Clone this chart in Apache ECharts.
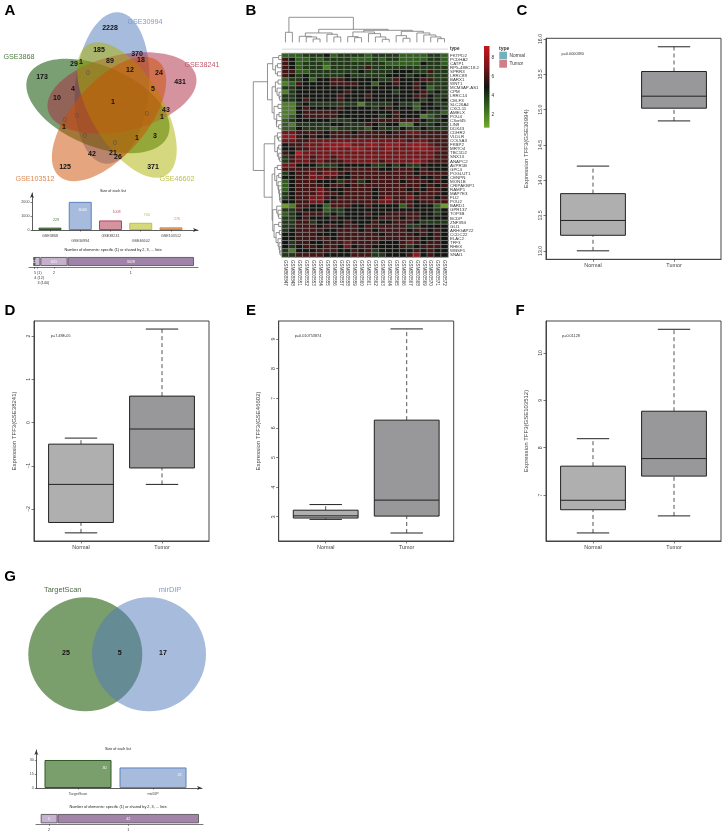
<!DOCTYPE html>
<html><head><meta charset="utf-8"><style>html,body{margin:0;background:#fff}#c{width:726px;height:835px}</style>
<script src="https://cdn.jsdelivr.net/npm/echarts@6/dist/echarts.min.js"></script></head><body><div id="c"></div>
<script>
const FONT='"Liberation Sans",Arial,sans-serif';
// Panel A: five-set Venn counts
const vennTexts=['2228','185','370','18','29','1','89','12','24','173','431','4','5','10','1','43','1','1','3','1','42','21','26','125','371'];
const vennTextX=[110,99,137,141,74,81,110,130,159,42,180,73,153,57,113,166,162,64,155,137,92,113,118,65,153];
const vennTextY=[28,50,54,60,64,62,61,70,73,77,82,89,89,98,102,110,117,127,136,138,154,153,157,167,167];
const vennZeroX=[88,77,147,65,85,115];
const vennZeroY=[73,116,114,120,136,143];
// Panel A: list sizes and intersections
const listNames=['GSE3868','GSE30994','GSE38241','GSE46602','GSE103512'];
const listSizes=[170,2030,690,520,190];
const listLabels=['229','3000','1008','700','276'];
const sharedCounts=[1,12,140,651,3028];
const sharedLabels=['5 (1)','\n4 (12)','\n\n3 (140)','2','1'];
// Panel B: heat map
const heatSamples=['GSM868847','GSM868848','GSM803551','GSM803552','GSM803553','GSM803554','GSM803555','GSM803556','GSM803557','GSM803558','GSM803559','GSM803560','GSM803561','GSM803562','GSM803563','GSM803564','GSM803565','GSM803566','GSM803567','GSM803568','GSM803569','GSM803570','GSM803571','GSM803572'];
const sampleTypes=[0,0,1,1,1,1,1,1,1,1,1,1,1,1,1,1,1,1,1,1,1,1,1,1];
const heatGenes=['FKTPD2','PCDHA2','CATP1','RP5-488C18.2','SPRR3','LRRC89','BARX1','WNT1','MCM3AP-AS1','CPM','LRRC14','CELF3','SLC26A4','CXCL11','AMELX','POU4','C3orf45','LIN9','DDX43','CDHR2','VLDLR','COL5A3','FKBP2','MRTO4','TBC1D2','SNX13','ANAPC2','AVPR1B','GPC4','POGLUT1','CENPN','MON1B','CRIPAKBP1','RAMP1','MAP7E3','FLI2','POU2','BARD1','GPR137','TOP3B','BCDP','ZNF394','GLI1','ARHGAP22','CCDC22','ELAC2','TFF3','RHEX','WBSF1','SNAI1'];
const heatRows=[
'333444 534444 344443 333443','653343 444433 343443 333443','653444 344444 444333 335443','653444 244444 644444 444444',
'663344 444445 444455 544644','654544 444544 444555 455444','344535 566555 554465 556644','236555 566665 535565 565444',
'445555 555555 555555 565344','245555 555655 555545 556454','445555 556555 655555 566544','445655 556555 555555 554545',
'224544 444442 444454 435544','225655 556555 545655 535554','225666 665555 555565 555443','235666 665555 554565 552345',
'345555 544455 566666 665445','324444 455444 654552 254454','335444 434444 354445 445444','776666 566656 666566 776666',
'886565 566666 666666 666666','776677 777777 777777 677666','566777 888977 887887 888766','556677 787788 777877 788776',
'659777 777777 777777 777766','467767 767777 777777 777766','467767 666777 776777 787666','775554 445555 544545 445555',
'666666 665666 665566 656555','456676 776566 666666 656666','556677 665566 666666 665565','356665 554664 566665 666565',
'356666 566566 666666 665656','356667 655666 656666 565665','456667 665666 656666 656665','456677 656666 656766 766656',
'556677 566666 667766 656666','126655 366655 655553 655531','446555 344555 555555 555545','345666 454555 655666 665545',
'445655 565555 556665 665555','446645 555655 565566 654444','446665 665665 666666 445555','456666 556665 656666 566565',
'556665 556666 665666 656565','556666 656666 666666 665565','546655 666766 665556 765665','545665 665756 655556 456665',
'425556 665565 645555 565655','446666 555566 644555 685655'];
const colTree=[75,[30,0,1],[39,[28,[18,2,[16,3,[10,4,5]]],[24,6,[16,7,8]]],[36,[31,[17,9,[14,10,11]],[26,12,[16,13,[9,14,15]]]],[33,[20,16,[12,17,18]],[28,19,[22,20,[16,21,[11,22,23]]]]]]]];
const rowTree=[87,[44,[28,[10,0,1],[20,[14,2,3],[14,4,5]]],[30,[20,[12,6,7],[15,8,[9,9,[7,10,11]]]],[24,[12,12,13],[16,[9,14,15],[17,16,[10,17,18]]]]]],
 [54,[22,[14,19,[10,20,21]],[14,[10,22,23],[10,24,[7,25,26]]]],[30,[22,[14,27,28],[16,[10,29,30],[12,31,[10,32,[8,33,[7,34,[6,35,36]]]]]]],[28,[16,37,[12,38,[10,39,40]]],[24,[10,41,42],[18,[8,43,44],[12,45,[9,46,[7,47,[6,48,49]]]]]]]]]];
// Panels C-F: box plots, each row is min, Q1, median, Q3, max
const boxC=[[13.0,13.22,13.43,13.81,14.2],[14.84,15.02,15.19,15.54,15.89]];
const boxD=[[-2.55,-2.31,-1.43,-0.5,-0.36],[-1.43,-1.05,-0.15,0.61,2.16]];
const boxE=[[2.91,2.955,3.03,3.22,3.41],[2.45,3.02,3.56,6.26,9.34]];
const boxF=[[6.2,6.69,6.89,7.61,8.19],[6.56,7.4,7.77,8.77,10.5]];
const boxNames=['Normal','Tumor'];
// Panel G
const gNames=['TargetScan','mirDIP'];
const gSizes=[30,22];
const gShared=[5,42];
const gSharedLabels=['2','1'];

const listFill=['#7a9f6c','#a7bbdc','#d4939f','#d6d87c','#e5a672'];
const listEdge=['#2f5a26','#5c82c0','#b8435f','#bcc04a','#d8803f'];
const listText=['#4f7a45','#7c9bd0','#c0586c','#bcc04a','#dd8a55'];
const heatStops=['#76ab2a','#35661f','#101510','#7a151b','#c4161c'];
const G=[],X=[],Y=[],S=[],GR=[];
function txt(t,x,y,size,o){GR.push({type:'text',x,y,silent:true,z:20,style:Object.assign({text:t,fontSize:size,fontFamily:FONT,fill:'#222',align:'center',verticalAlign:'middle'},o||{})});}
function grid(l,t,w,h,show){G.push(Object.assign({left:l,top:t,width:w,height:h,containLabel:false},show?{show:true,borderColor:'#444',borderWidth:1}:{}));return G.length-1;}
const hide={show:false};
[['A',10,11],['B',251,11],['C',522,11],['D',10,311],['E',251,311],['F',520,311],['G',10,577]].forEach(p=>txt(p[0],p[1],p[2],15,{fontWeight:'bold',fill:'#000'}));

// Venn A
[[112,88,85,37,'#4f77bb',.5],[98,106,-23,40,'#0d5000',.55],[122,93,13,38,'#a9273f',.5],[127,110,-59,36,'#adb100',.5],[109,119,49,37,'#cb4d00',.5]].forEach(e=>{
 GR.push({type:'ellipse',x:e[0],y:e[1],rotation:e[2]*Math.PI/180,silent:true,shape:{cx:0,cy:0,rx:76,ry:e[3]},style:{fill:e[4],opacity:e[5]},z:5});});
vennTexts.forEach((t,i)=>txt(t,vennTextX[i],vennTextY[i],7,{fontWeight:'bold',fill:'#111'}));
vennZeroX.forEach((x,i)=>txt('0',x,vennZeroY[i],7,{fill:'#555'}));
[['GSE30994',145,22],['GSE3868',19,57],['GSE38241',202,65],['GSE46602',177,179],['GSE103512',35,179]].forEach((p,i)=>txt(p[0],p[1],p[2],7.2,{fill:listText[[1,0,2,3,4][i]]}));

function arrowAxis(){return {show:true,onZero:false,symbol:['none','arrow'],symbolSize:[3,5],lineStyle:{color:'#333',width:.8}};}
function sizeBars(l,t,w,h,xmin,xmax,ymax,names,vals,labels,ticks,barW,idx,inside){
 const g=grid(l,t,w,h);
 X.push({gridIndex:g,type:'value',min:xmin,max:xmax,splitLine:hide,axisLine:arrowAxis(),axisTick:{show:true,length:1.5,customValues:names.map((n,i)=>i+1),lineStyle:{color:'#333',width:.6}},axisLabel:{customValues:names.map((n,i)=>i+1),fontSize:3.7,fontFamily:FONT,color:'#444',margin:3,lineHeight:5,formatter:v=>(names.length>2&&v%2===0?'\n':'')+names[v-1]}});
 Y.push({gridIndex:g,type:'value',min:0,max:ymax,splitLine:hide,axisLine:arrowAxis(),axisTick:{show:true,length:1.5,customValues:ticks,lineStyle:{color:'#333',width:.6}},axisLabel:{customValues:ticks,fontSize:3.7,fontFamily:FONT,color:'#444',margin:2.5,formatter:v=>String(v)}});
 S.push({type:'bar',xAxisIndex:X.length-1,yAxisIndex:Y.length-1,barWidth:barW,silent:true,
  data:vals.map((v,i)=>{const k=idx[i],ins=inside(i);return {value:[i+1,v],itemStyle:{color:listFill[k],borderColor:listEdge[k],borderWidth:1},
   label:{show:true,formatter:labels[i],fontSize:3.7,fontFamily:FONT,color:ins?'#fff':listText[k],position:ins?'insideTopRight':'top',offset:ins?[0,1]:[6,-1]}};})});
}
function sharedBar(l,t,w,h,min,max,vals,labels,fills){
 const g=grid(l,t,w,h);let acc=0;const mids=vals.map(v=>{const m=acc+v/2;acc+=v;return m;});
 X.push({gridIndex:g,type:'value',min,max,splitLine:hide,axisLine:{show:true,onZero:false,lineStyle:{color:'#555',width:.8}},axisTick:{show:true,length:1.5,customValues:mids,lineStyle:{color:'#333',width:.6}},
  axisLabel:{show:false}});
 Y.push({gridIndex:g,type:'category',data:['n'],show:false});
 vals.forEach((v,i)=>S.push({type:'bar',xAxisIndex:X.length-1,yAxisIndex:Y.length-1,stack:'s'+g,barWidth:h-2,silent:true,data:[v],
  itemStyle:{color:fills[i],borderColor:'#5c5560',borderWidth:.9},label:{show:v>4 && v!==140,position:'inside',fontSize:3.7,fontFamily:FONT,color:'#fff'}}));
 S.push({type:'custom',xAxisIndex:X.length-1,yAxisIndex:Y.length-1,silent:true,clip:false,data:mids.map((m,i)=>[m,0,i]),renderItem:(p,api)=>{
  const raw=labels[api.value(2)],line=raw.length-raw.replace(/\n/g,'').length,t=raw.replace(/\n/g,'');
  return {type:'text',x:api.coord([api.value(0),0])[0],y:p.coordSys.y+p.coordSys.height+5.7+line*5,
   style:{text:t,fontSize:3.7,fontFamily:FONT,fill:'#333',align:t.length>1?'left':'center',verticalAlign:'middle'}};}});
}
txt('Size of each list',113,191,3.7);
sizeBars(32,193,166,37,.405,5.893,2670,listNames,listSizes,listLabels,[0,1000,2000],23,[0,1,2,3,4],i=>i===1);
txt('Number of elements: specific (1) or shared by 2, 3, ... lists',113,249.5,3.8);
sharedBar(29,256,169,11,-120,3928,sharedCounts,sharedLabels,['#5f5566','#5f5566','#c9b8d3','#c5b1cc','#a083a8']);

// Heat map B
function flatten(tree,out){if(typeof tree==='number')return {p:tree+.5,d:0};const a=flatten(tree[1],out),b=flatten(tree[2],out);out.push([a.p,a.d,b.p,b.d,tree[0]]);return {p:(a.p+b.p)/2,d:tree[0]};}
const colSegs=[],rowSegs=[];flatten(colTree,colSegs);flatten(rowTree,rowSegs);
const lineS={stroke:'#777',lineWidth:.8,fill:null};
let g=grid(282,17.3,166,25);
X.push({gridIndex:g,type:'value',min:0,max:24,show:false});Y.push({gridIndex:g,type:'value',min:0,max:75,show:false});
S.push({type:'custom',xAxisIndex:X.length-1,yAxisIndex:Y.length-1,silent:true,clip:false,data:colSegs,renderItem:(p,api)=>{
 const a=api.coord([api.value(0),api.value(1)]),b=api.coord([api.value(0),api.value(4)]),c=api.coord([api.value(2),api.value(4)]),d=api.coord([api.value(2),api.value(3)]);
 return {type:'polyline',shape:{points:[a,b,c,d]},style:lineS};}});
g=grid(253.3,53.5,28.7,203.5);
X.push({gridIndex:g,type:'value',min:0,max:87,inverse:true,show:false});Y.push({gridIndex:g,type:'value',min:0,max:50,inverse:true,show:false});
S.push({type:'custom',xAxisIndex:X.length-1,yAxisIndex:Y.length-1,silent:true,clip:false,data:rowSegs,renderItem:(p,api)=>{
 const a=api.coord([api.value(1),api.value(0)]),b=api.coord([api.value(4),api.value(0)]),c=api.coord([api.value(4),api.value(2)]),d=api.coord([api.value(3),api.value(2)]);
 return {type:'polyline',shape:{points:[a,b,c,d]},style:lineS};}});
g=grid(282,46.3,166,5.7);
X.push({gridIndex:g,type:'category',data:heatSamples,show:false});
Y.push({gridIndex:g,type:'category',data:['type'],position:'right',axisLine:hide,axisTick:hide,axisLabel:{fontSize:4.6,fontFamily:FONT,color:'#333',margin:2,fontWeight:'bold'}});
const typeColors=['#72b0bb','#d07f85'];
S.push({type:'bar',xAxisIndex:X.length-1,yAxisIndex:Y.length-1,barWidth:'100%',silent:true,data:sampleTypes.map(t=>({value:1,itemStyle:{color:typeColors[t],borderColor:'#c8c8c8',borderWidth:.4}}))});
g=grid(282,53.5,166,203.5);
X.push({gridIndex:g,type:'category',data:heatSamples,axisLine:hide,axisTick:hide,axisLabel:{rotate:-90,interval:0,fontSize:4.6,fontFamily:FONT,color:'#333',margin:3}});
Y.push({gridIndex:g,type:'category',inverse:true,position:'right',data:heatGenes,axisLine:hide,axisTick:hide,axisLabel:{interval:0,fontSize:4.4,fontFamily:FONT,color:'#333',margin:2}});
const heatData=[];heatRows.forEach((r,i)=>r.replace(/ /g,'').split('').forEach((c,j)=>heatData.push([j,i,+c])));
S.push({type:'heatmap',xAxisIndex:X.length-1,yAxisIndex:Y.length-1,silent:true,data:heatData,progressive:0,itemStyle:{borderColor:'#8f8f8f',borderWidth:.7}});
const heatIdx=S.length-1;
g=grid(484,46,5.5,81.7);
X.push({gridIndex:g,type:'value',show:false});
Y.push({gridIndex:g,type:'value',min:.63,max:9.26,position:'right',splitLine:hide,axisLine:hide,axisTick:{show:true,length:1,customValues:[2,4,6,8],lineStyle:{color:'#333',width:.5}},axisLabel:{customValues:[2,4,6,8],fontSize:4.8,fontFamily:FONT,color:'#333',margin:2}});
S.push({type:'scatter',xAxisIndex:X.length-1,yAxisIndex:Y.length-1,data:[],silent:true});
GR.push({type:'rect',x:484,y:46,silent:true,z:5,shape:{width:5.5,height:81.7},style:{fill:new echarts.graphic.LinearGradient(0,1,0,0,heatStops.map((c,i)=>({offset:i/(heatStops.length-1),color:c})))}});
txt('type',499,48.5,5,{align:'left',fontWeight:'bold',fill:'#333'});
[['Normal',51.7,typeColors[0]],['Tumor',60,typeColors[1]]].forEach(r=>{
 GR.push({type:'rect',x:499.3,y:r[1],silent:true,shape:{width:7.7,height:7.7},style:{fill:r[2]},z:5});
 txt(r[0],509.5,r[1]+4,4.8,{align:'left',fill:'#333'});});

// Box plots
function boxPanel(l,t,w,h,ymin,ymax,ticks,xmin,xmax,rows,name,tickText,fills){
 const gi=grid(l,t,w,h,true);
 X.push({gridIndex:gi,type:'value',min:xmin,max:xmax,splitLine:hide,axisLine:{show:true,onZero:false,lineStyle:{color:'#444'}},axisTick:{show:true,length:2.5,customValues:[1,2],lineStyle:{color:'#444',width:.7}},axisLabel:{customValues:[1,2],fontSize:5.4,fontFamily:FONT,color:'#444',margin:4,formatter:v=>boxNames[v-1]}});
 Y.push({gridIndex:gi,type:'value',min:ymin,max:ymax,splitLine:hide,name,nameLocation:'middle',nameGap:17,nameTextStyle:{fontSize:6,fontFamily:FONT,color:'#444'},axisLine:{show:true,onZero:false,lineStyle:{color:'#444'}},axisTick:{show:true,length:2.5,customValues:ticks,lineStyle:{color:'#444',width:.7}},axisLabel:{customValues:ticks,rotate:90,fontSize:5.2,fontFamily:FONT,color:'#444',margin:3,formatter:v=>tickText?tickText(v):String(v)}});
 S.push({type:'custom',xAxisIndex:X.length-1,yAxisIndex:Y.length-1,silent:true,clip:false,data:rows.map((r,i)=>[i+1].concat(r)),renderItem:(p,api)=>{
  const x=api.value(0),v=i=>api.value(i),c=(a,b)=>api.coord([a,b]);
  const edge={stroke:'#222',lineWidth:1},dash={stroke:'#555',lineWidth:1,lineDash:[4,3]};
  const ln=(a,b,st)=>({type:'line',shape:{x1:a[0],y1:a[1],x2:b[0],y2:b[1]},style:st});
  const tl=c(x-.4,v(4)),br=c(x+.4,v(2));
  return {type:'group',children:[
   ln(c(x,v(1)),c(x,v(2)),dash),ln(c(x,v(4)),c(x,v(5)),dash),
   ln(c(x-.2,v(1)),c(x+.2,v(1)),edge),ln(c(x-.2,v(5)),c(x+.2,v(5)),edge),
   {type:'rect',shape:{x:tl[0],y:tl[1],width:br[0]-tl[0],height:br[1]-tl[1]},style:{fill:fills[x-1],stroke:'#222',lineWidth:1}},
   ln(c(x-.4,v(3)),c(x+.4,v(3)),edge)]};}});
}
const fills=['#b0afb0','#989799'];
boxPanel(546,38.3,175,221,12.88,16.01,[13,13.5,14,14.5,15,15.5,16],.42,2.58,boxC,'Expression TFF3(GSE30994)',v=>v.toFixed(1),fills);
boxPanel(34,321,175,220,-2.738,2.346,[-2,-1,0,1,2],.42,2.58,boxD,'Expression TFF3(GSE38241)',v=>v<0?'\u2212'+(-v):String(v),fills);
boxPanel(278.7,321,175,220,2.18,9.607,[3,4,5,6,7,8,9],.42,2.58,boxE,'Expression TFF3(GSE46602)',null,fills);
boxPanel(546,321,175,220,6.03,10.675,[7,8,9,10],.42,2.58,boxF,'Expression TFF3(GSE103512)',null,fills);
txt('p=0.0000380',572.7,53.7,3.8,{fill:'#333'});
txt('p=7.48E-05',60.7,336,3.8,{fill:'#333'});
txt('p=0.010753874',308,336,3.8,{fill:'#333'});
txt('p=0.01128',571,336,3.8,{fill:'#333'});

// Venn G
GR.push({type:'circle',x:85.3,y:654.3,silent:true,shape:{cx:0,cy:0,r:57},style:{fill:'#215f0a',opacity:.6},z:5});
GR.push({type:'circle',x:149,y:654.3,silent:true,shape:{cx:0,cy:0,r:57},style:{fill:'#4f77bb',opacity:.5},z:5});
txt('TargetScan',62.7,590,7.4,{fill:'#4f6b45'});
txt('mirDIP',170,590,7.4,{fill:'#7b9bcf'});
txt('25',66,653,7,{fontWeight:'bold',fill:'#111'});
txt('5',119.7,653,7,{fontWeight:'bold',fill:'#111'});
txt('17',163,653,7,{fontWeight:'bold',fill:'#111'});
txt('Size of each list',118,749,3.7);
sizeBars(36.3,750,165.7,38,.444,2.653,40.7,gNames,gSizes,gSizes.map(String),[0,15,30],67,[0,1],()=>true);
txt('Number of elements: specific (1) or shared by 2, 3, ... lists',118,807,3.8);
sharedBar(36,813,167,11.3,-1.4,48.2,gShared,gSharedLabels,['#c5b3cf','#a284a8']);

const chart=echarts.init(document.getElementById('c'),null,{renderer:'canvas'});
chart.setOption({animation:false,backgroundColor:'#fff',grid:G,xAxis:X,yAxis:Y,series:S,graphic:{elements:GR},
 visualMap:[{type:'continuous',seriesIndex:heatIdx,min:.63,max:9.26,show:false,inRange:{color:heatStops}}]});
</script></body></html>
